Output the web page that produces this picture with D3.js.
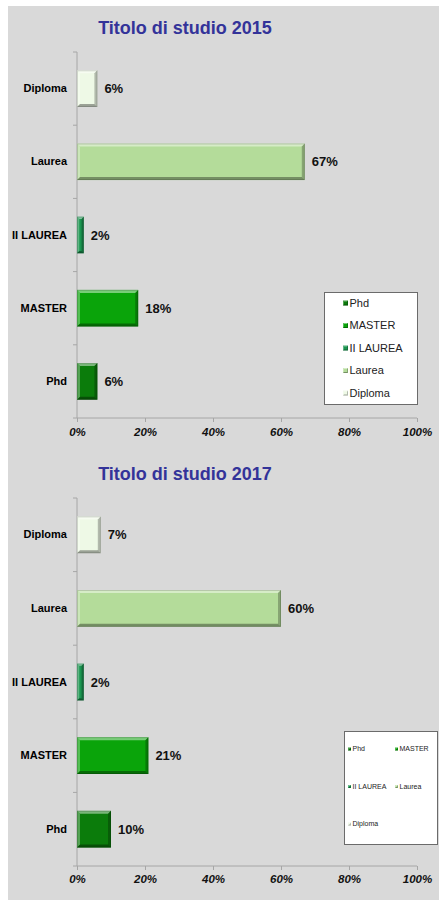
<!DOCTYPE html>
<html>
<head>
<meta charset="utf-8">
<script src="https://cdn.jsdelivr.net/npm/d3@7"></script>
<style>
  body { margin: 0; background: #fff; }
  svg { display: block; font-family: "Liberation Sans", Arial, sans-serif; }
</style>
</head>
<body>
<div id="chart"></div>
<script>
// data
var categories = ["Diploma", "Laurea", "II LAUREA", "MASTER", "Phd"];
var values2015 = [6, 67, 2, 18, 6];
var values2017 = [7, 60, 2, 21, 10];
var barColors = ["#eef9e6", "#b4dc9a", "#1b9650", "#0aa40a", "#0b7c0b"];
var legendOrder = ["Phd", "MASTER", "II LAUREA", "Laurea", "Diploma"];
var xTicks = [0, 20, 40, 60, 80, 100];

var W = 439, H = 900;

var svg = d3.select("#chart")
    .append("svg")
    .attr("width", W)
    .attr("height", H);

// grey plot background
svg.append("rect")
    .attr("x", 8).attr("y", 6)
    .attr("width", W - 8).attr("height", H - 6)
    .attr("fill", "#d9d9d9");

var color = d3.scaleOrdinal().domain(categories).range(barColors);
var x = d3.scaleLinear().domain([0, 100]).range([77, 417]);

// excel style bevel on a rect
function bevel(g, x0, y0, w, h, b) {
    b = Math.min(b, w / 3, h / 3);
    var pts = function(a) { return a.map(function(p) { return p.join(","); }).join(" "); };
    g.append("polygon")
	.attr("points", pts([[x0, y0], [x0 + w, y0], [x0 + w - b, y0 + b], [x0 + b, y0 + b]]))
	.attr("fill", "#fff").attr("fill-opacity", 0.45);
    g.append("polygon")
	.attr("points", pts([[x0, y0], [x0 + b, y0 + b], [x0 + b, y0 + h - b], [x0, y0 + h]]))
	.attr("fill", "#fff").attr("fill-opacity", 0.3);
    g.append("polygon")
	.attr("points", pts([[x0 + w, y0], [x0 + w, y0 + h], [x0 + w - b, y0 + h - b], [x0 + w - b, y0 + b]]))
	.attr("fill", "#000").attr("fill-opacity", 0.25);
    g.append("polygon")
	.attr("points", pts([[x0, y0 + h], [x0 + w, y0 + h], [x0 + w - b, y0 + h - b], [x0 + b, y0 + h - b]]))
	.attr("fill", "#000").attr("fill-opacity", 0.35);
}

function drawChart(cfg) {
    var g = svg.append("g");

    g.append("text")
	.attr("x", 185).attr("y", cfg.titleY)
	.attr("text-anchor", "middle")
	.attr("font-size", 18).attr("font-weight", "bold")
	.attr("fill", "#333399")
	.text(cfg.title);

    var y = d3.scaleBand().domain(categories).range([cfg.top, cfg.bottom]);

    // y axis: line, boundary ticks and labels
    g.append("line")
	.attr("x1", x(0)).attr("x2", x(0))
	.attr("y1", cfg.top).attr("y2", cfg.bottom)
	.attr("stroke", "#a6a6a6");
    g.selectAll(".ytick")
	.data(categories)
	.enter()
	.append("line")
	.attr("x1", x(0) - 4).attr("x2", x(0))
	.attr("y1", function(d) { return y(d); })
	.attr("y2", function(d) { return y(d); })
	.attr("stroke", "#a6a6a6");

    var yAxis = g.append("g")
	.attr("transform", "translate(" + x(0) + ",0)")
	.call(d3.axisLeft(y).tickSize(0).tickPadding(10));
    yAxis.select(".domain").remove();
    yAxis.selectAll("text")
	.attr("font-size", 11).attr("font-weight", "bold")
	.attr("font-family", "Liberation Sans, Arial, sans-serif")
	.attr("fill", "#000");

    // x axis
    var xAxis = g.append("g")
	.attr("transform", "translate(0," + cfg.bottom + ")")
	.call(d3.axisBottom(x).tickValues(xTicks)
	      .tickFormat(function(d) { return d + "%"; })
	      .tickSizeOuter(0).tickSize(4).tickPadding(cfg.tickPad));
    xAxis.select(".domain").attr("stroke", "#a6a6a6")
	.attr("d", "M" + (x(0) - 4) + ",0H" + x(100));
    xAxis.selectAll("line").attr("stroke", "#a6a6a6");
    xAxis.selectAll("text")
	.attr("font-size", 11.5).attr("font-weight", "bold").attr("font-style", "italic")
	.attr("font-family", "Liberation Sans, Arial, sans-serif")
	.attr("fill", "#111");

    // bars
    var bh = y.bandwidth() * 0.5;
    categories.forEach(function(c, i) {
	var v = cfg.values[i];
	var bx = x(0), by = y(c) + (y.bandwidth() - bh) / 2, bw = x(v) - x(0);
	var bg = g.append("g");
	bg.append("rect")
	    .attr("x", bx).attr("y", by)
	    .attr("width", bw).attr("height", bh)
	    .attr("fill", color(c));
	bevel(bg, bx, by, bw, bh, 3);
	bg.append("rect")
	    .attr("x", bx + 0.5).attr("y", by + 0.5)
	    .attr("width", bw - 1).attr("height", bh - 1)
	    .attr("fill", "none").attr("stroke", "#000").attr("stroke-opacity", 0.15);

	g.append("text")
	    .attr("x", x(v) + 7)
	    .attr("y", y(c) + y.bandwidth() / 2)
	    .attr("dy", "0.35em")
	    .attr("font-size", 13).attr("font-weight", "bold")
	    .attr("fill", "#111")
	    .text(v + "%");
    });

    // legend
    var L = cfg.legend;
    var lg = g.append("g");
    lg.append("rect")
	.attr("x", L.x).attr("y", L.y)
	.attr("width", L.w).attr("height", L.h)
	.attr("fill", "#fff").attr("stroke", "#6b6b6b");
    legendOrder.forEach(function(c, i) {
	var col = i % L.cols, row = Math.floor(i / L.cols);
	var lx = L.ix + col * L.colW, ly = L.iy + row * L.rowH;
	lg.append("rect")
	    .attr("x", lx).attr("y", ly - L.ms / 2)
	    .attr("width", L.ms).attr("height", L.ms)
	    .attr("fill", color(c));
	bevel(lg, lx, ly - L.ms / 2, L.ms, L.ms, 1);
	lg.append("text")
	    .attr("x", lx + L.ms + 1.5).attr("y", ly)
	    .attr("dy", "0.35em")
	    .attr("font-size", L.fs)
	    .attr("fill", "#222")
	    .text(c);
    });
}

drawChart({
    title: "Titolo di studio 2015", titleY: 34,
    values: values2015, top: 52, bottom: 418, tickPad: 6,
    legend: {x: 324.5, y: 292.5, w: 93, h: 112, cols: 1, colW: 0,
	     ix: 343, iy: 303, rowH: 22.5, ms: 5, fs: 11}
});

drawChart({
    title: "Titolo di studio 2017", titleY: 480,
    values: values2017, top: 498, bottom: 866, tickPad: 5,
    legend: {x: 344.5, y: 731.5, w: 93, h: 113, cols: 2, colW: 47,
	     ix: 348, iy: 749, rowH: 37.5, ms: 3, fs: 7}
});
</script>
</body>
</html>
